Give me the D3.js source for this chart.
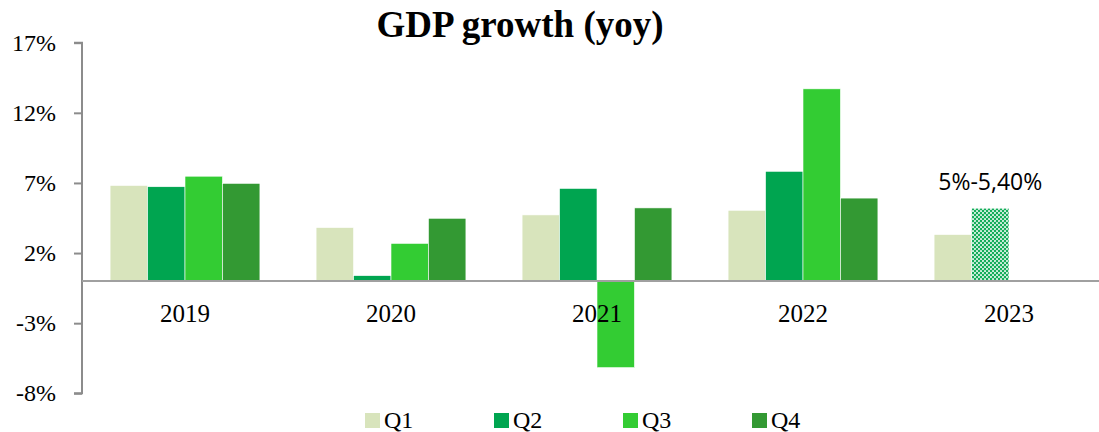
<!DOCTYPE html>
<html>
<head>
<meta charset="utf-8">
<script src="https://cdn.jsdelivr.net/npm/d3@7"></script>
<style>
  body { margin: 0; background: #fff; }
  svg { display: block; }
</style>
</head>
<body>
<div id="chart"></div>
<script>
// GDP growth (yoy), % by quarter
const years = ['2019', '2020', '2021', '2022', '2023'];
const quarters = ['Q1', 'Q2', 'Q3', 'Q4'];
const q1 = [6.82, 3.82, 4.72, 5.05, 3.32];
const q2 = [6.73, 0.39, 6.61, 7.83, 5.2];
const q3 = [7.48, 2.69, -6.17, 13.71, null];
const q4 = [6.97, 4.48, 5.22, 5.92, null];
const yTicks = [17, 12, 7, 2, -3, -8];
const colors = ['#d8e4bc', '#00a550', '#33cc33', '#339933'];
const projected = {year: '2023', quarter: 'Q2', label: '5%-5,40%'};

const width = 1099;
const height = 432;

const series = [q1, q2, q3, q4];
const rows = [];
years.forEach((year, i) => {
  quarters.forEach((q, j) => {
    if (series[j][i] != null) {
      rows.push({year: year, quarter: q, value: series[j][i]});
    }
  });
});

const svg = d3.select('#chart').append('svg')
  .attr('width', width)
  .attr('height', height);

// dotted fill for the forecast bar
const defs = svg.append('defs');
const pat = defs.append('pattern')
  .attr('id', 'dots')
  .attr('patternUnits', 'userSpaceOnUse')
  .attr('width', 4)
  .attr('height', 4);
pat.append('rect').attr('width', 4).attr('height', 4).attr('fill', '#14ad5a');
pat.append('circle').attr('cx', 1).attr('cy', 1).attr('r', 1.05).attr('fill', '#fff').attr('opacity', 0.85);
pat.append('circle').attr('cx', 3).attr('cy', 3).attr('r', 1.05).attr('fill', '#fff').attr('opacity', 0.85);

const x0 = d3.scaleBand()
  .domain(years)
  .range([82, 1112])
  .padding(0);

const x1 = d3.scaleBand()
  .domain(quarters)
  .range([0, x0.bandwidth()])
  .paddingInner(0)
  .paddingOuter(0.75);

const y = d3.scaleLinear()
  .domain([-8, 17])
  .range([393.3, 42.7]);

const color = d3.scaleOrdinal().domain(quarters).range(colors);

svg.append('text')
  .attr('x', 520)
  .attr('y', 37)
  .attr('text-anchor', 'middle')
  .style('font-family', '"Liberation Serif", "Times New Roman", serif')
  .style('font-weight', 'bold')
  .style('font-size', '37px')
  .text('GDP growth (yoy)');

// y axis
const yAxis = d3.axisLeft(y)
  .tickValues(yTicks)
  .tickSize(8)
  .tickPadding(18)
  .tickFormat(d => d + '%');

const yAxisGroup = svg.append('g')
  .attr('transform', `translate(${82},0)`)
  .call(yAxis);
yAxisGroup.select('.domain').attr('stroke', '#8c8c8c').attr('stroke-width', 2)
  .attr('d', `M-8,${y(17)}H0V${y(-8)}H-8`);
yAxisGroup.selectAll('.tick line').attr('stroke', '#8c8c8c').attr('stroke-width', 2);
yAxisGroup.selectAll('.tick text')
  .attr('fill', '#000')
  .style('font-family', '"Liberation Serif", "Times New Roman", serif')
  .style('font-size', '24px');

// bars
const groups = svg.append('g').selectAll('g')
  .data(years)
  .join('g')
  .attr('transform', d => `translate(${x0(d)},0)`);

groups.selectAll('rect')
  .data(yr => rows.filter(r => r.year === yr))
  .join('rect')
  .attr('x', d => x1(d.quarter))
  .attr('width', x1.bandwidth())
  .attr('y', d => y(Math.max(0, d.value)))
  .attr('height', d => Math.abs(y(d.value) - y(0)))
  .attr('fill', d => (d.year === projected.year && d.quarter === projected.quarter) ? 'url(#dots)' : color(d.quarter))
  .attr('stroke', '#fff')
  .attr('stroke-width', 0.6);

// x axis line at zero
svg.append('line')
  .attr('x1', 82)
  .attr('x2', width)
  .attr('y1', y(0))
  .attr('y2', y(0))
  .attr('stroke', '#a0a0a0')
  .attr('stroke-width', 2);

svg.append('g').selectAll('text')
  .data(years)
  .join('text')
  .attr('x', d => x0(d) + x0.bandwidth() / 2)
  .attr('y', 322)
  .attr('text-anchor', 'middle')
  .style('font-family', '"Liberation Serif", "Times New Roman", serif')
  .style('font-size', '25px')
  .text(d => d);

// forecast label
const pv = rows.find(r => r.year === projected.year && r.quarter === projected.quarter);
svg.append('text')
  .attr('x', x0(pv.year) + x1(pv.quarter) + x1.bandwidth() / 2)
  .attr('y', y(pv.value) - 18)
  .attr('text-anchor', 'middle')
  .style('font-family', '"Open Sans", sans-serif')
  .style('font-size', '23px')
  .text(projected.label);

// legend
const legend = svg.append('g').selectAll('g')
  .data(quarters)
  .join('g')
  .attr('transform', (d, i) => `translate(${365 + i * 129},413)`);

legend.append('rect')
  .attr('width', 15)
  .attr('height', 15)
  .attr('fill', d => color(d));

legend.append('text')
  .attr('x', 19)
  .attr('y', 15)
  .style('font-family', '"Liberation Serif", "Times New Roman", serif')
  .style('font-size', '24px')
  .text(d => d);
</script>
</body>
</html>
